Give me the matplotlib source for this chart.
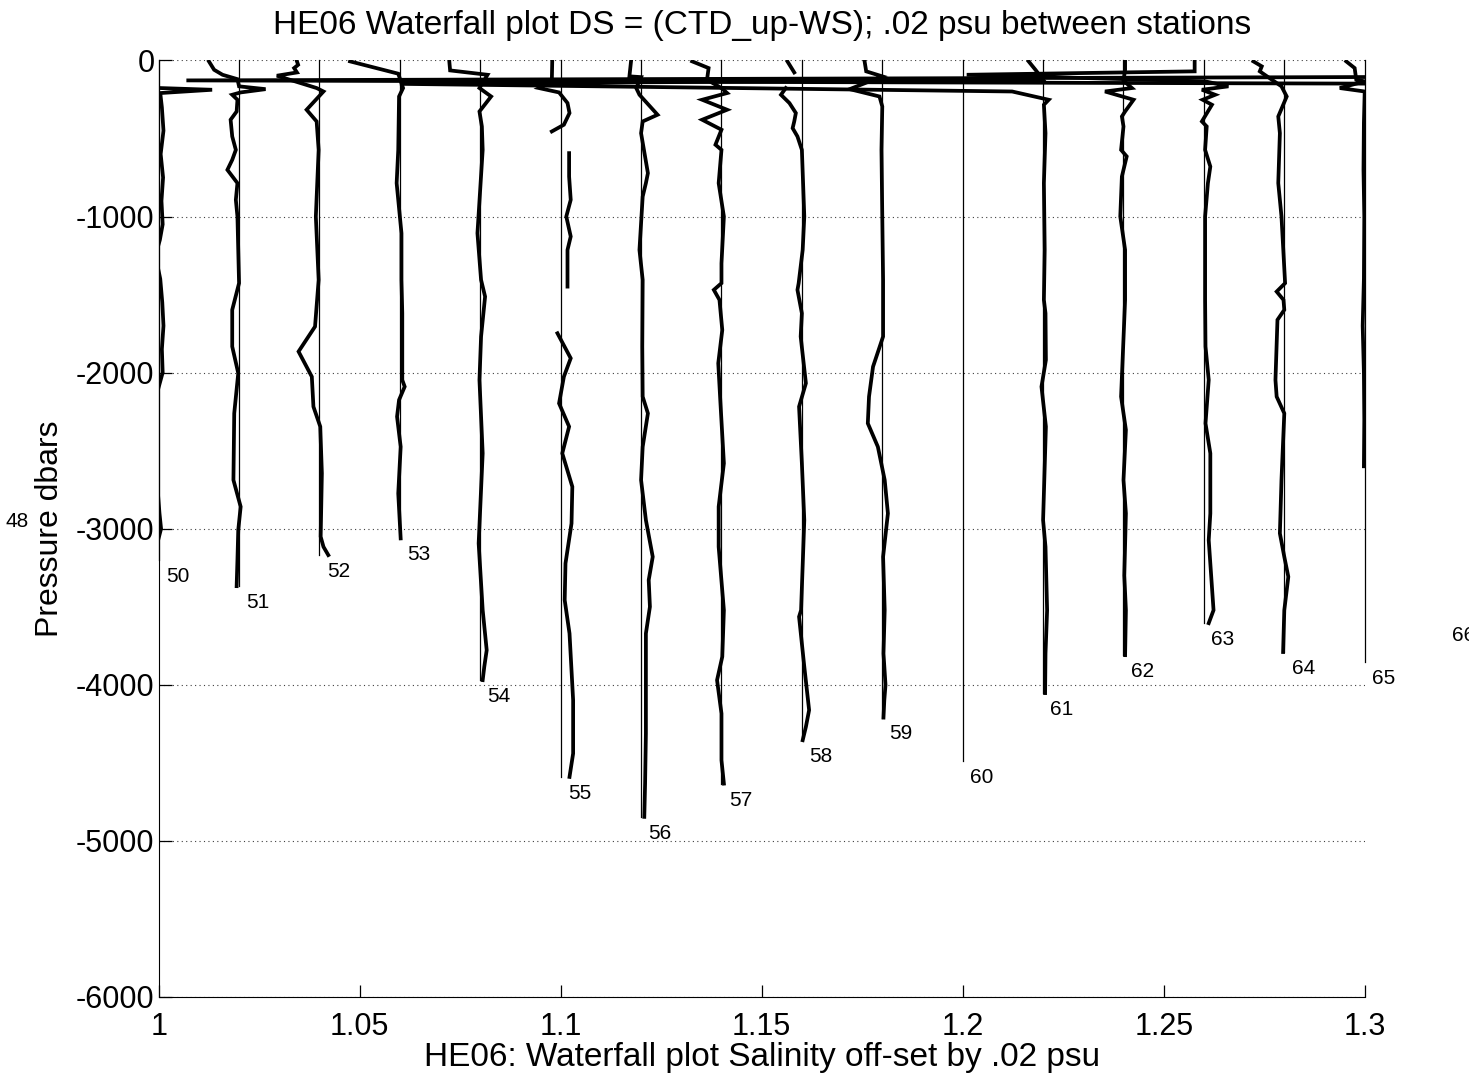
import numpy as np
import matplotlib
matplotlib.use("Agg")
import matplotlib.pyplot as plt

plt.rcParams['font.family'] = ['Liberation Sans', 'DejaVu Sans']
plt.rcParams['axes.unicode_minus'] = False

nan = np.nan

# station numbers and the depth (dbar) of the deepest sample of each cast
stations = [48, 50, 51, 52, 53, 54, 55, 56, 57, 58, 59, 60, 61, 62, 63, 64, 65, 66]
bottoms = [-2850, -3200, -3370, -3170, -3060, -3970, -4590, -4846, -4633, -4355,
           -4210, -4490, -4053, -3810, -3605, -3790, -3855, -3580]

# DS = CTD_up - WS for each station, pressure in dbar
p48 = []
ds48 = []

p50 = [-177, -188, -209, -300, -450, -600, -750, -900, -1050, -1150, -1250, -1400,
       -1550, -1700, -1850, -2000, -2150, -2400, -2700, -2900, -3000, -3100, -3200]
ds50 = [0.0004, 0.0133, 0.0004, 0.0008, 0.0012, 0.0005, 0.0011, 0.0007, 0.001, 0.0003,
        -0.0008, 0.0004, 0.0009, 0.0012, 0.0008, 0.001, -0.0006, -0.0005, -0.0004,
        0.0002, 0.0006, -0.0004, -0.0005]

p51 = [-6, -60, -92, -120, -166, -184, -205, -220, -252, -327, -380, -487, -573, -637,
       -701, -786, -893, -1000, -1214, -1427, -1598, -1833, -2004, -2261, -2688, -2859,
       -3009, -3200, -3368]
ds51 = [-0.0075, -0.0062, -0.0041, -0.0004, 0.0, 0.0066, 0.0004, -0.0017, -0.0004,
        -0.0006, -0.0021, -0.0017, -0.0008, -0.0017, -0.0029, -0.0004, -0.0008, -0.0004,
        -0.0002, 0.0, -0.0017, -0.0017, -0.0002, -0.0012, -0.0014, 0.0004, -0.0002,
        -0.0004, -0.0006]

p52 = [-6, -28, -49, -77, -98, -177, -199, -316, -391, -573, -1000, -1406, -1705, -1865,
       -2026, -2218, -2346, -2645, -3051, -3116, -3169]
ds52 = [-0.0056, -0.0053, -0.0063, -0.0056, -0.0106, -0.0007, 0.001, -0.0032, -0.0007,
        -0.0002, -0.0009, -0.0002, -0.0011, -0.0052, -0.0019, -0.0015, 0.0002, 0.0006,
        0.0003, 0.001, 0.0022]

p53 = [-6, -85, -177, -231, -573, -786, -1107, -1406, -1620, -2047, -2090, -2175, -2282,
       -2475, -2774, -3062]
ds53 = [-0.0124, -0.0004, 0.0008, -0.0002, -0.0004, -0.0008, 0.0004, 0.0004, 0.0006,
        0.0006, 0.0012, -0.0002, -0.0007, 0.0002, -0.0004, 0.0002]

p54 = [-6, -64, -92, -177, -231, -327, -423, -573, -1107, -1406, -1513, -1769, -2047,
       -2517, -3094, -3521, -3778, -3884, -3970]
ds54 = [-0.0077, -0.0075, 0.0018, -0.0002, 0.0027, -0.0002, 0.0004, 0.0006, -0.0007,
        0.0002, 0.0012, 0.0002, -0.0002, 0.0006, -0.0004, 0.0006, 0.0016, 0.001, 0.0006]

p55 = [-6, -134, -177, -205, -273, -337, -412, -455, nan, -594, -744, -893, -1000, -1128,
       -1214, -1449, nan, -1748, -1908, -2026, -2197, -2346, -2517, -2731, -2966, -3222,
       -3457, -3671, -4098, -4440, -4590]
ds55 = [-0.0021, -0.0022, -0.0054, -0.0004, 0.0017, 0.0022, 0.0008, -0.0022, nan, 0.0021,
        0.0021, 0.0025, 0.0014, 0.0025, 0.0017, 0.0017, nan, -0.0008, 0.0025, 0.0008,
        -0.0004, 0.0021, 0.0004, 0.0029, 0.0027, 0.0012, 0.001, 0.0022, 0.0031, 0.0031,
        0.0022]

p56 = [-6, -102, -107, -177, -220, -348, -391, -466, -722, -786, -872, -1214, -1406,
       -1833, -2154, -2261, -2475, -2688, -2945, -3180, -3329, -3500, -3671, -4312,
       -4633, -4846]
ds56 = [-0.0025, -0.0029, 0.0, -0.0012, -0.0004, 0.0041, 0.0004, 0.0, 0.0017, 0.0012,
        0.0004, -0.0004, 0.0004, 0.0003, 0.0004, 0.0017, 0.0004, 0.0, 0.0012, 0.0029,
        0.0019, 0.0022, 0.0012, 0.0012, 0.001, 0.0008]

p57 = [-6, -49, -124, -177, -209, -252, -316, -380, -444, -540, -573, -786, -1000, -1300,
       -1427, -1470, -1534, -1727, -1940, -2175, -2581, -2859, -3116, -3522, -3820,
       -3970, -4184, -4483, -4633]
ds57 = [-0.0073, -0.0032, -0.0036, 0.0, 0.0014, -0.0048, 0.0014, -0.0048, 0.0, -0.0015,
        0.0, -0.0007, 0.0006, 0.0, 0.0, -0.0019, -0.0005, 0.0002, -0.0008, -0.0003,
        0.0006, -0.0007, -0.0007, 0.0006, 0.0002, -0.0011, 0.0, 0.0, 0.0006]

p58 = [-6, -77, nan, -177, -220, -273, -337, -391, -434, -487, -573, -1000, -1214, -1427,
       -1470, -1620, -1769, -2068, -2218, -2581, -2945, -3522, -3564, -3884, -4162,
       -4269, -4355]
ds58 = [-0.0036, -0.0019, nan, -0.004, -0.0052, -0.0031, -0.0015, -0.0019, -0.0023,
        -0.0011, 0.0, 0.0006, 0.0002, -0.0008, -0.0011, 0.0, -0.0003, 0.001, -0.0007,
        0.0, 0.0006, -0.0002, -0.0007, 0.0006, 0.0018, 0.001, 0.0002]

p59 = [-6, -70, -102, -184, -231, -295, -573, -1000, -1406, -1769, -1962, -2154, -2325,
       -2475, -2688, -2902, -3180, -3521, -3800, -4000, -4100, -4210]
ds59 = [-0.0044, -0.004, 0.0, -0.0081, -0.0007, 0.0, -0.0002, 0.0, 0.0002, 0.0002,
        -0.0023, -0.0033, -0.0036, -0.0011, 0.0006, 0.0014, 0.0002, 0.0006, 0.0003,
        0.0008, 0.0005, 0.0003]

p60 = [-105, -128, -150]
ds60 = [0.12, -0.1931, 0.12]

p61 = [-6, -60, -124, -150, -199, -252, -284, -466, -786, -1214, -1534, -1620, -1919,
       -2090, -2346, -2945, -3116, -3522, -3800, -4053]
ds61 = [-0.0036, -0.0019, 0.0, -0.16, -0.0077, 0.0014, 0.0002, 0.0006, 0.0002, 0.0004,
        0.0002, 0.0006, 0.0007, -0.0004, 0.0007, 0.0, 0.0006, 0.001, 0.0006, 0.0005]

p62 = [-6, -60, -130, -177, -199, -252, -327, -359, -423, -573, -615, -744, -1000, -1214,
       -1534, -2154, -2367, -2688, -2902, -3300, -3522, -3810]
ds62 = [0.0004, 0.0004, 0.0, 0.0021, -0.0046, 0.0025, 0.0004, -0.0004, 0.0, -0.0006,
        0.0008, -0.0004, -0.0008, 0.0004, 0.0004, -0.0006, 0.0006, 0.0, 0.0006, 0.0002,
        0.0006, 0.0004]

p63 = [-6, -70, -92, -134, -166, -188, -220, -252, -284, -391, -423, -573, -680, -786,
       -1000, -1534, -1833, -2047, -2325, -2517, -2902, -3073, -3522, -3605]
ds63 = [-0.0023, -0.0023, -0.059, 0.0003, 0.0061, -0.0005, 0.0028, -0.0003, 0.002,
        -0.0005, 0.0007, 0.0003, 0.0016, 0.001, 0.0003, 0.0003, 0.0004, 0.0012, 0.0004,
        0.0016, 0.0016, 0.0012, 0.0024, 0.0012]

p64 = [-6, -38, -70, -166, -231, -359, -466, -786, -1000, -1427, -1481, -1534, -1598,
       -1662, -2047, -2154, -2261, -2688, -3030, -3180, -3308, -3522, -3790]
ds64 = [-0.0077, -0.0056, -0.0061, -0.0007, 0.0006, -0.0015, -0.0011, -0.0015, -0.0007,
        0.0002, -0.0019, -0.0002, 0.0, -0.0017, -0.0022, -0.0019, 0.0, -0.0007, -0.0011,
        0.0, 0.001, 0.0, -0.0003]

p65 = [-6, -49, -124, -134, -177, -199, -400, -700, -1000, -1400, -1700, -2000, -2300,
       -2600]
ds65 = [-0.0046, -0.0025, -0.0021, 0.0, -0.0062, 0.0, -0.0002, -0.0003, -0.0001,
        -0.0002, -0.0005, -0.0002, -0.0001, -0.0002]

p66 = []
ds66 = []

profiles = {
    48: (p48, ds48), 50: (p50, ds50), 51: (p51, ds51), 52: (p52, ds52),
    53: (p53, ds53), 54: (p54, ds54), 55: (p55, ds55), 56: (p56, ds56),
    57: (p57, ds57), 58: (p58, ds58), 59: (p59, ds59), 60: (p60, ds60),
    61: (p61, ds61), 62: (p62, ds62), 63: (p63, ds63), 64: (p64, ds64),
    65: (p65, ds65), 66: (p66, ds66),
}

step = 0.02   # psu between stations
x0, x1 = 1.0, 1.3

fig = plt.figure(figsize=(14.69, 10.79), dpi=100)
ax = fig.add_axes([0.108, 0.076, 0.821, 0.868])

for stn, bot in zip(stations, bottoms):
    off = 1.0 + step * (stn - 50)
    p, ds = profiles[stn]
    # reference line for the station; only ones off the axis get clipped
    inside = x0 - 1e-9 <= off <= x1 + 1e-9
    ax.plot([off, off], [0, bot], color='k', lw=0.9, clip_on=not inside)
    if len(p):
        ax.plot(off + np.array(ds), np.array(p), color='k', lw=2.7,
                solid_joinstyle='miter')
    ax.text(off + 0.0018, bot - 105, str(stn), fontsize=15, ha='left', va='center',
            clip_on=False)

ax.set_xlim(x0, x1)
ax.set_ylim(-6000, 0)
xt = [1, 1.05, 1.1, 1.15, 1.2, 1.25, 1.3]
ax.set_xticks(xt)
ax.set_xticklabels(['%g' % v for v in xt])
ax.set_yticks(range(-6000, 1, 1000))
ax.tick_params(direction='in', length=9, width=0.9, labelsize=22)
ax.tick_params(axis='x', pad=11)
ax.tick_params(axis='y', pad=3)
ax.spines['top'].set_visible(False)
ax.spines['right'].set_visible(False)
ax.yaxis.grid(True, linestyle=(0, (1, 3)), color='0.25', lw=0.8)
ax.set_axisbelow(True)

ax.set_title('HE06 Waterfall plot DS = (CTD_up-WS); .02 psu between stations',
             fontsize=24, pad=19)
ax.set_xlabel('HE06: Waterfall plot Salinity off-set by .02 psu', fontsize=24,
              labelpad=0)
ax.set_ylabel('Pressure dbars', fontsize=23, labelpad=8)

fig.savefig('out.png', dpi=100)
